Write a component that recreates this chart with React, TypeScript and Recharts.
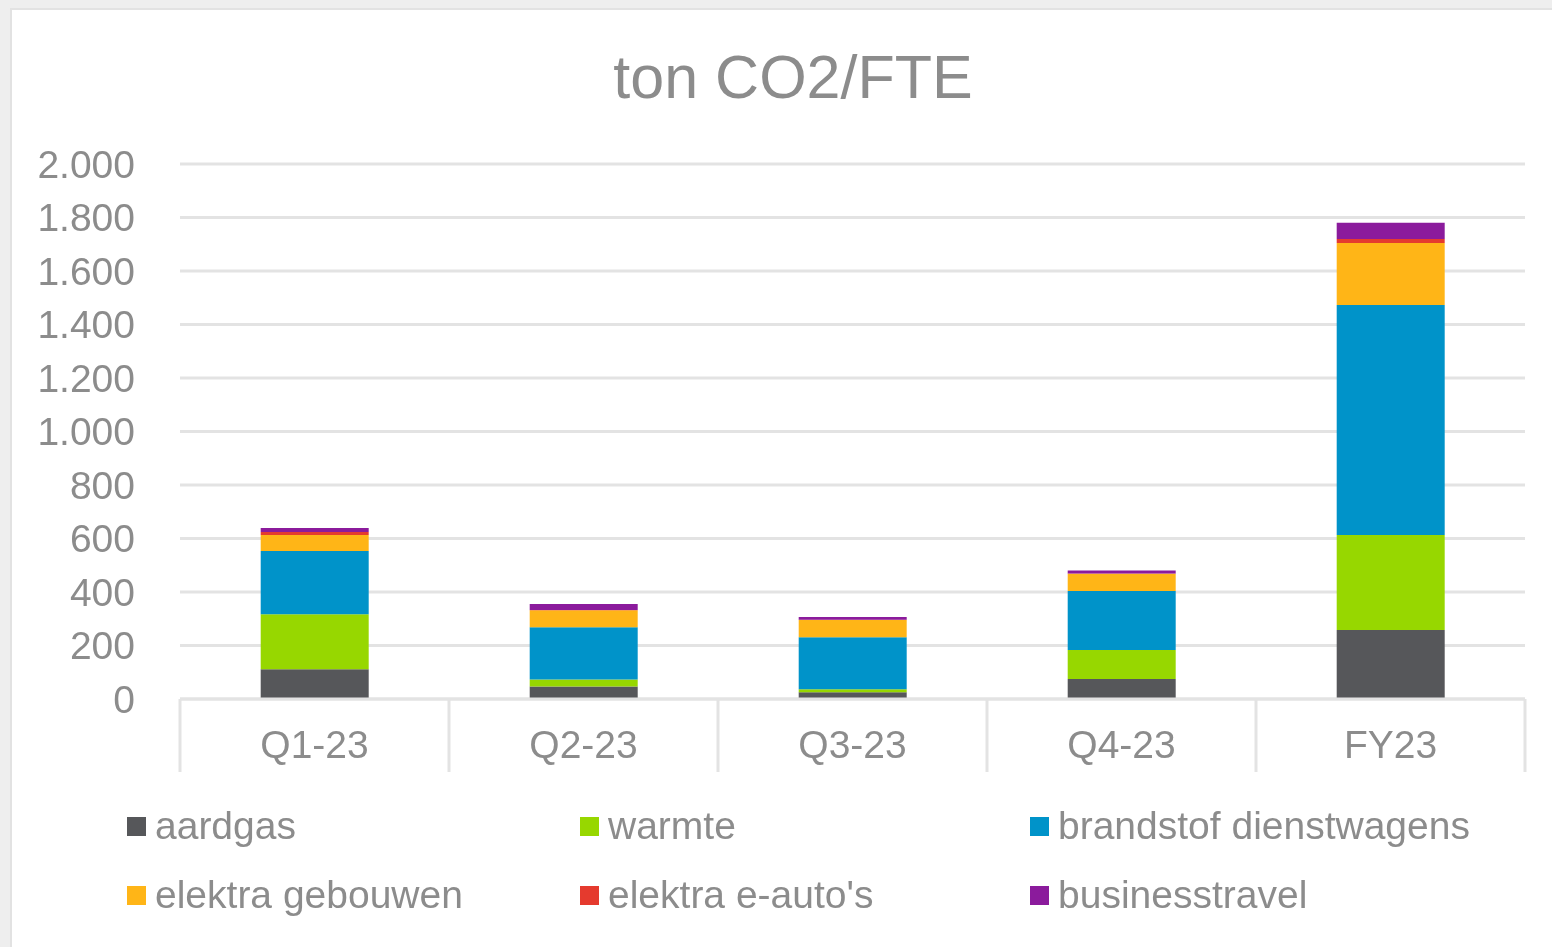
import React from 'react';
import { BarChart, Bar, XAxis, YAxis, CartesianGrid, Legend } from 'recharts';

const categories = ['Q1-23', 'Q2-23', 'Q3-23', 'Q4-23', 'FY23'];

const aardgas = [111, 47, 25, 75, 258];
const warmte = [206, 26, 11, 108, 355];
const brandstofDienstwagens = [236, 195, 195, 221, 860];
const elektraGebouwen = [60, 64, 64, 64, 232];
const elektraEAutos = [11, 1, 1, 1, 15];
const businesstravel = [15, 22, 11, 11, 60];

const yTicks = [0, 200, 400, 600, 800, 1000, 1200, 1400, 1600, 1800, 2000];

const series = [
  { key: 'aardgas', name: 'aardgas', color: '#56575a', values: aardgas },
  { key: 'warmte', name: 'warmte', color: '#97d700', values: warmte },
  { key: 'brandstof', name: 'brandstof dienstwagens', color: '#0093c9', values: brandstofDienstwagens },
  { key: 'gebouwen', name: 'elektra gebouwen', color: '#ffb517', values: elektraGebouwen },
  { key: 'eauto', name: "elektra e-auto's", color: '#e53a2e', values: elektraEAutos },
  { key: 'business', name: 'businesstravel', color: '#8b1b9c', values: businesstravel },
];

const data = categories.map((cat, i) => {
  const row: Record<string, string | number> = { cat };
  series.forEach((s) => {
    row[s.key] = s.values[i];
  });
  return row;
});

const FONT = '"Liberation Sans", Arial, sans-serif';
const TEXT = '#8c8c8c';
const LINE = '#e3e3e3';

// 2000 -> "2.000"
const fmt = (v: number) => String(v).replace(/\B(?=(\d{3})+(?!\d))/g, '.');

const CategoryTick = (props: any) => {
  const { x, y, payload, index, visibleTicksCount, width } = props;
  const half = payload.offset ?? width / visibleTicksCount / 2;
  return (
    <g>
      <line x1={x - half} x2={x - half} y1={y} y2={y + 73} stroke={LINE} strokeWidth={3} />
      {index === visibleTicksCount - 1 && (
        <line x1={x + half} x2={x + half} y1={y} y2={y + 73} stroke={LINE} strokeWidth={3} />
      )}
      <text x={x} y={y + 59} textAnchor="middle" fill={TEXT} fontSize={39} fontFamily={FONT}>
        {payload.value}
      </text>
    </g>
  );
};

const legendCols = [115, 568, 1018];

const LegendBox = () => (
  <div style={{ position: 'relative', height: 147, width: 1540 }}>
    {series.map((s, i) => {
      const col = legendCols[i % 3];
      const row = Math.floor(i / 3);
      return (
        <React.Fragment key={s.key}>
          <div
            style={{
              position: 'absolute',
              left: col,
              top: row === 0 ? 35 : 104,
              width: 19,
              height: 19,
              background: s.color,
            }}
          />
          <span
            style={{
              position: 'absolute',
              left: col + 28,
              top: row === 0 ? 24 : 93,
              fontSize: 39,
              lineHeight: 1,
              fontFamily: FONT,
              color: TEXT,
              whiteSpace: 'nowrap',
            }}
          >
            {s.name}
          </span>
        </React.Fragment>
      );
    })}
  </div>
);

export default function App() {
  return (
    <div style={{ position: 'fixed', left: 0, top: 0, width: 1552, height: 947, background: '#eeeeee' }}>
      <div
        style={{
          position: 'absolute',
          left: 10,
          top: 8,
          width: 1542,
          height: 939,
          background: '#ffffff',
          borderLeft: '2px solid #e2e2e2',
          borderTop: '2px solid #e2e2e2',
          boxSizing: 'border-box',
        }}
      >
        <div
          style={{
            position: 'absolute',
            left: 0,
            width: 1562,
            top: 37,
            textAlign: 'center',
            fontFamily: FONT,
            fontSize: 61,
            lineHeight: 1,
            color: TEXT,
          }}
        >
          ton CO2/FTE
        </div>
        <BarChart
          width={1540}
          height={937}
          data={data}
          margin={{ top: 154, right: 27, left: 0, bottom: 18 }}
          barCategoryGap="30%"
        >
          <CartesianGrid vertical={false} stroke={LINE} strokeWidth={3} />
          <XAxis
            dataKey="cat"
            height={83}
            tickSize={0}
            tickMargin={0}
            tickLine={false}
            axisLine={{ stroke: LINE, strokeWidth: 3 }}
            tick={<CategoryTick />}
            interval={0}
          />
          <YAxis
            width={168}
            domain={[0, 2000]}
            ticks={yTicks}
            tickFormatter={fmt}
            tickLine={false}
            axisLine={false}
            tickSize={0}
            tickMargin={45}
            tick={{ fill: TEXT, fontSize: 39, fontFamily: FONT }}
          />
          <Legend
            verticalAlign="bottom"
            content={<LegendBox />}
            wrapperStyle={{ left: 0, width: 1540, height: 147 }}
          />
          {series.map((s) => (
            <Bar key={s.key} dataKey={s.key} name={s.name} stackId="a" fill={s.color} isAnimationActive={false} />
          ))}
        </BarChart>
      </div>
    </div>
  );
}
